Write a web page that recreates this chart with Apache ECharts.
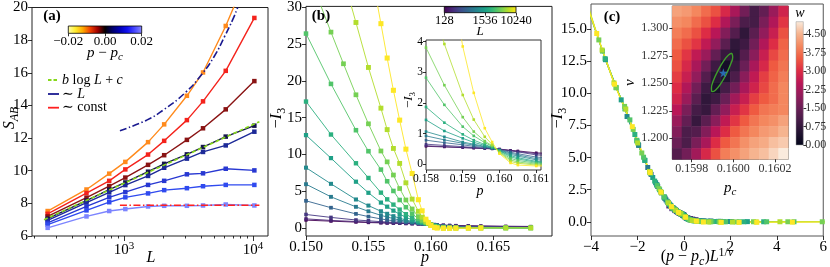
<!DOCTYPE html>
<html><head><meta charset="utf-8">
<script src="https://cdn.jsdelivr.net/npm/echarts@6.0.0/dist/echarts.min.js"></script>
<style>html,body{margin:0;padding:0;background:#fff;}#chart{width:830px;height:267px;}</style>
</head><body><div id="chart"></div>
<script>
// ================= DATA =================
// Panel (a): entanglement S_AB vs L for several p - p_c
const sizesA = [256, 512, 768, 1024, 1536, 2048, 3072, 4096, 6144, 10240];
const sA_orange = [7.53, 8.85, 9.82, 10.54, 11.75, 12.84, 14.59, 16.02, 18.87, 23.0];
const sA_red    = [7.36, 8.63, 9.38, 10.08, 10.99, 11.83, 13.10, 14.25, 16.12, 19.36];
const sA_dkred  = [7.20, 8.35, 9.06, 9.58, 10.36, 10.95, 11.89, 12.60, 13.76, 15.49];
const sA_black  = [7.06, 8.17, 8.84, 9.28, 9.94, 10.42, 11.00, 11.45, 12.09, 12.76];
const sA_dkblue = [6.96, 8.05, 8.67, 9.12, 9.68, 10.18, 10.74, 11.15, 11.55, 12.39];
const sA_blue   = [6.80, 7.81, 8.37, 8.69, 9.13, 9.38, 9.78, 9.84, 10.12, 10.02];
const sA_blue2  = [6.70, 7.57, 8.07, 8.37, 8.61, 8.81, 8.93, 9.05, 9.13, 9.13];
const sA_ltblue = [6.50, 7.20, 7.53, 7.65, 7.81, 7.85, 7.85, 7.87, 7.93, 7.87];
// fit curves
const fitLogL = [240, 11200];            const fitLogS = [7.0, 13.0];
const fitLinL = [930, 1500, 2000, 3000, 4000, 5000, 6000, 7000, 7600];
const fitLinS = [12.45, 13.1, 13.7, 14.8, 15.9, 17.0, 18.2, 19.3, 20.0];
const fitConstL = [930, 11200];          const fitConstS = [7.88, 7.88];
const legendA = ['{i|b}{r| log }{i|L}{r| + }{i|c}', '{r|\u223c }{i|L}', '{r|\u223c const}'];
const ticksAXexp = [3, 4];
const ticksAcb = [-0.02, 0.0, 0.02];

// Panel (b): -I3 vs p for several L
const sizesB = [128, 192, 256, 512, 768, 1024, 1536, 2048, 3072, 4096, 6144, 10240];
const pB = [0.150, 0.152, 0.153, 0.154, 0.155, 0.156, 0.1565, 0.157, 0.1575, 0.158, 0.1585, 0.159, 0.1593, 0.1596, 0.1598, 0.160, 0.1603, 0.1605, 0.161, 0.1615, 0.162, 0.163, 0.164, 0.166, 0.168];
const i3_L128   = [1.06, 0.92, null, 0.79, 0.73, 0.69, 0.66, 0.64, 0.62, 0.59, 0.57, 0.55, 0.53, 0.52, 0.51, 0.50, 0.46, 0.44, 0.38, 0.35, 0.33, 0.30, 0.27, 0.23, 0.20];
const i3_L192   = [1.23, 1.02, null, 0.87, 0.79, 0.72, 0.69, 0.67, 0.64, 0.61, 0.58, 0.55, 0.54, 0.52, 0.51, 0.50, 0.45, 0.42, 0.35, 0.32, 0.29, 0.26, 0.23, 0.18, 0.15];
const i3_L256   = [1.83, 1.43, null, 1.08, 0.97, 0.85, 0.80, 0.74, 0.70, 0.66, 0.62, 0.58, 0.55, 0.53, 0.51, 0.49, 0.44, 0.41, 0.31, 0.28, 0.25, 0.21, 0.18, 0.13, 0.10];
const i3_L512   = [3.69, 2.75, null, 1.91, 1.54, 1.23, 1.08, 0.98, 0.89, 0.79, 0.71, 0.64, 0.59, 0.55, 0.52, 0.48, 0.40, 0.35, 0.24, 0.20, 0.16, 0.12, 0.10, 0.07, 0.05];
const i3_L768   = [5.95, 4.23, null, 2.87, 2.26, 1.71, 1.48, 1.27, 1.07, 0.93, 0.80, 0.69, 0.63, 0.57, 0.53, 0.47, 0.37, 0.31, 0.19, 0.15, 0.12, 0.08, 0.06, 0.04, 0.03];
const i3_L1024  = [8.20, 6.00, null, 3.87, 3.04, 2.27, 1.92, 1.60, 1.32, 1.07, 0.90, 0.73, 0.66, 0.59, 0.54, 0.46, 0.33, 0.27, 0.15, 0.11, 0.08, 0.05, 0.04, 0.03, 0.02];
const i3_L1536  = [12.63, 9.50, null, 6.29, 4.78, 3.45, 2.89, 2.35, 1.87, 1.45, 1.09, 0.85, 0.72, 0.62, 0.55, 0.45, 0.29, 0.22, 0.10, 0.07, 0.05, 0.03, 0.02, 0.01, 0.01];
const i3_L2048  = [17.20, 12.71, null, 8.80, 6.80, 4.80, 3.89, 3.17, 2.49, 1.87, 1.36, 0.98, 0.79, 0.65, 0.56, 0.44, 0.25, 0.18, 0.07, 0.04, 0.03, 0.02, 0.01, 0.00, 0.00];
const i3_L3072  = [26.45, 19.60, null, 13.30, 10.44, 7.94, 6.35, 5.03, 3.80, 2.82, 1.94, 1.23, 0.93, 0.71, 0.59, 0.42, 0.20, 0.13, 0.04, 0.02, 0.01, 0.00, 0.00, 0.00, 0.00];
const i3_L4096  = [35.5, 26.65, 22.34, 18.12, 14.17, 10.47, 8.99, 7.20, 5.36, 3.80, 2.58, 1.54, 1.07, 0.76, 0.61, 0.40, 0.15, 0.08, 0.01, 0.00, -0.01, -0.01, 0.00, 0.00, 0.00];
const i3_L6144  = [null, 40.0, null, 27.96, 21.84, 16.30, 13.38, 10.82, 8.78, 6.14, 3.92, 2.26, 1.46, 0.90, 0.65, 0.38, 0.10, 0.04, -0.02, -0.03, -0.02, -0.01, 0.00, 0.00, 0.00];
const i3_L10240 = [null, null, null, null, 37.0, 27.80, 23.12, 18.73, 14.67, 10.72, 7.41, 3.84, 2.33, 1.18, 0.73, 0.35, 0.05, -0.02, -0.05, -0.05, -0.04, -0.03, -0.02, null, null];
const ticksBX = [0.150, 0.155, 0.160, 0.165];
const ticksBY = [0, 5, 10, 15, 20, 25, 30];
const ticksBinX = [0.158, 0.159, 0.160, 0.161];
const ticksBinY = [0, 1, 2, 3, 4];
const ticksBcb = [128, 1536, 10240];

// Panel (c): collapse parameters (best fit, star) and cost landscape w(p_c, nu)
const pcFit = 0.15995, nuFit = 1.259;
const starP = [0.159952], starNu = [1.2596];
const ellP  = [0.159993, 0.159997, 0.159986, 0.159965, 0.159939, 0.159914, 0.159898, 0.159895, 0.159905, 0.159927, 0.159953, 0.159977, 0.159993];
const ellNu = [1.2773, 1.2740, 1.2669, 1.2579, 1.2495, 1.2437, 1.2424, 1.2456, 1.2527, 1.2617, 1.2702, 1.2758, 1.2773];
const heatPRange = [0.159707, 0.160264];
const heatNuRange = [1.1809, 1.3203];
// rows from top (nu high) to bottom (nu low), columns from p_c low to high
const wRow00 = [4.3, 4.2, 4.0, 3.7, 3.4, 2.9, 2.3, 1.6, 1.0, 1.4, 2.1, 2.8];
const wRow01 = [4.1, 4.0, 3.7, 3.4, 3.0, 2.4, 1.7, 1.1, 1.0, 1.7, 2.4, 3.1];
const wRow02 = [3.9, 3.7, 3.4, 3.0, 2.5, 1.8, 1.2, 0.7, 1.3, 2.0, 2.7, 3.4];
const wRow03 = [3.7, 3.4, 3.1, 2.6, 2.0, 1.3, 0.7, 0.9, 1.6, 2.4, 3.0, 3.6];
const wRow04 = [3.5, 3.1, 2.6, 2.1, 1.4, 0.8, 0.6, 1.2, 1.9, 2.7, 3.3, 3.7];
const wRow05 = [3.4, 2.9, 2.3, 1.6, 0.9, 0.3, 0.8, 1.5, 2.3, 2.9, 3.5, 3.8];
const wRow06 = [3.2, 2.7, 2.0, 1.2, 0.6, 0.5, 1.1, 1.9, 2.6, 3.2, 3.6, 3.9];
const wRow07 = [3.0, 2.4, 1.6, 0.9, 0.4, 1.0, 1.6, 2.3, 2.8, 3.3, 3.7, 4.0];
const wRow08 = [2.8, 2.1, 1.3, 0.7, 0.9, 1.5, 2.2, 2.7, 3.2, 3.5, 3.7, 4.0];
const wRow09 = [2.5, 1.7, 1.0, 0.8, 1.4, 2.0, 2.7, 3.1, 3.5, 3.8, 3.9, 4.0];
const wRow10 = [2.1, 1.4, 0.8, 1.3, 1.9, 2.6, 3.1, 3.5, 3.8, 4.0, 4.1, 4.3];
const wRow11 = [1.8, 1.1, 1.2, 1.8, 2.5, 3.0, 3.5, 3.8, 4.0, 4.2, 4.3, 4.5];
const wRow12 = [1.5, 1.1, 1.7, 2.3, 3.0, 3.5, 3.8, 4.1, 4.3, 4.4, 4.6, 4.7];
const wRow13 = [1.2, 1.6, 2.2, 2.9, 3.4, 3.9, 4.1, 4.3, 4.5, 4.6, 4.8, 5.0];
const ticksCY = [0, 2.5, 5, 7.5, 10, 12.5, 15];
const ticksCinX = [0.1598, 0.1600, 0.1602];
const ticksCinY = [1.200, 1.225, 1.250, 1.275, 1.300];
const ticksCcb = [0, 0.75, 1.5, 2.25, 3.0, 3.75, 4.5];

// ================= STYLE =================
const SERIF = "'Liberation Serif','DejaVu Serif',serif";
const colA = ['#ff8a1c', '#f4231c', '#8a1414', '#15154c', '#1d2a98', '#2838d2', '#2f4aef', '#7c84ff'];
const CB_A = ['#ffffb0', '#ffee30', '#ffaa00', '#f04000', '#a00000', '#050000', '#00006a', '#0000b5', '#1010f0', '#4848ff', '#8a8aff'];
const VIR = ['#440154','#471365','#482475','#463480','#414487','#3b528b','#355f8d','#2f6c8e','#2a788e','#25848e','#21918c','#1e9c89','#22a884','#2fb47c','#44bf70','#5ec962','#7ad151','#9bd93c','#bddf26','#dfe318','#fde725'];
const ROCKET = ['#03051a','#221331','#451c47','#6a1f56','#921c5b','#b91657','#dd2c45','#ef5a41','#f4875e','#f6b48f','#faebdd'];
const fitStyles = [
  {color:'#86d81a', dash:[4,2.5]},
  {color:'#1a1a90', dash:[7,2.5,1.5,2.5]},
  {color:'#ff2020', dash:[7,2.5,1.5,2.5]}
];
function hex2rgb(h){ return [parseInt(h.slice(1,3),16), parseInt(h.slice(3,5),16), parseInt(h.slice(5,7),16)]; }
function interp(stops, t){
  t = Math.max(0, Math.min(1, t));
  const f = t * (stops.length - 1), i = Math.min(stops.length - 2, Math.floor(f)), u = f - i;
  const a = hex2rgb(stops[i]), b = hex2rgb(stops[i+1]);
  return 'rgb(' + a.map((v,k)=>Math.round(v + (b[k]-v)*u)).join(',') + ')';
}
function gradStops(stops){ return stops.map((c,i)=>({offset:i/(stops.length-1), color:c})); }
function richSet(size){
  const s2 = Math.round(size*0.72), col = '#000';
  return {
    i:{fontFamily:SERIF,fontSize:size,fontStyle:'italic',color:col},
    r:{fontFamily:SERIF,fontSize:size,color:col},
    b:{fontFamily:SERIF,fontSize:size,fontWeight:'bold',color:col},
    sb:{fontFamily:SERIF,fontSize:s2,fontStyle:'italic',verticalAlign:'bottom',padding:[Math.round(size*0.55),0,0,0],color:col},
    sbr:{fontFamily:SERIF,fontSize:s2,verticalAlign:'bottom',padding:[Math.round(size*0.55),0,0,0],color:col},
    sp:{fontFamily:SERIF,fontSize:s2,fontStyle:'italic',verticalAlign:'top',padding:[0,0,Math.round(size*0.5),0],color:col},
    spr:{fontFamily:SERIF,fontSize:s2,verticalAlign:'top',padding:[0,0,Math.round(size*0.5),0],color:col}
  };
}
function gtext(x, y, text, size, rot, align){
  return {type:'text', x:x, y:y, rotation: rot||0, z:100,
    style:{text:text, rich:richSet(size), align:align||'center', verticalAlign:'middle', fill:'#000'}};
}
const minus = s => String(s).replace('-', '\u2212');
function vAxis(o, col){
  col = col || '#000';
  const base = {type:'value', splitLine:{show:false}, axisLine:{show:false, onZero:false},
    axisTick:{show:true, inside:false, length:4, lineStyle:{color:'#000', width:0.8}},
    axisLabel:{fontFamily:SERIF, fontSize:15, color:col, margin:4}};
  const r = Object.assign({}, base, o);
  r.axisTick = Object.assign({}, base.axisTick, o.axisTick||{});
  r.axisLabel = Object.assign({}, base.axisLabel, o.axisLabel||{});
  return r;
}
function hiddenAxis(o){
  return Object.assign({show:false, axisLine:{show:false, onZero:false}, axisTick:{show:false}, axisLabel:{show:false}, splitLine:{show:false}, splitArea:{show:false}, axisPointer:{show:false}}, o);
}
const frame = (c) => ({show:true, borderColor:c||'#222', borderWidth:1, backgroundColor:'transparent'});

// ================= BUILD =================
const lg = Math.log10;
const aXMin = 2.287, aXMax = 4.116;
const minorA = [];
[100, 1000].forEach(d => { for (let k = 2; k <= 9; k++) { const v = lg(k*d); if (v > aXMin && v < aXMax) minorA.push(v); } });

const series = [];
const seriesA = [sA_orange, sA_red, sA_dkred, sA_black, sA_dkblue, sA_blue, sA_blue2, sA_ltblue];
seriesA.forEach((vals, k) => series.push({
  type:'line', xAxisIndex:0, yAxisIndex:0, z:3,
  data: sizesA.map((L,i)=>[lg(L), vals[i]]),
  symbol:'rect', symbolSize:4.5, lineStyle:{width:1.4, color:colA[k]}, itemStyle:{color:colA[k]}
}));
const fitsA = [[fitLogL, fitLogS, false], [fitLinL, fitLinS, true], [fitConstL, fitConstS, false]];
fitsA.forEach((f, k) => series.push({type:'line', xAxisIndex:0, yAxisIndex:0, z:5, symbol:'none', smooth:f[2],
  data: f[0].map((L,i)=>[lg(L), f[1][i]]), lineStyle:{width:1.6, color:fitStyles[k].color, type:fitStyles[k].dash}}));

const seriesB = [i3_L128, i3_L192, i3_L256, i3_L512, i3_L768, i3_L1024, i3_L1536, i3_L2048, i3_L3072, i3_L4096, i3_L6144, i3_L10240];
const tOf = L => Math.log(L/128)/Math.log(10240/128);
seriesB.forEach((vals, k) => {
  const L = sizesB[k], col = interp(VIR, tOf(L));
  const pts = pB.map((p,i)=> vals[i]==null ? null : [p, vals[i]]).filter(d=>d);
  series.push({type:'line', xAxisIndex:3, yAxisIndex:2, z:2, data:pts, symbol:'rect', symbolSize:3.2+k*0.17,
    lineStyle:{width:0.9, color:col}, itemStyle:{color:col}});
  series.push({type:'line', xAxisIndex:4, yAxisIndex:3, z:6, data:pts, symbol:'rect', symbolSize:2.6,
    lineStyle:{width:0.8, color:col}, itemStyle:{color:col}});
  const sc = Math.pow(L, 1/nuFit);
  series.push({type:'line', xAxisIndex:6, yAxisIndex:5, z:3, data: pts.map(d=>[(d[0]-pcFit)*sc, d[1]]),
    symbol:'rect', symbolSize:5, lineStyle:{width:1.2, color:col}, itemStyle:{color:col}});
});

const wRows = [wRow00, wRow01, wRow02, wRow03, wRow04, wRow05, wRow06, wRow07, wRow08, wRow09, wRow10, wRow11, wRow12, wRow13];
const nR = wRows.length;
const heatData = [];
wRows.forEach((row, j) => row.forEach((w, i) => heatData.push([i, nR-1-j, w])));
const heatIdx = series.length;
series.push({type:'heatmap', xAxisIndex:7, yAxisIndex:6, z:6, data:heatData, itemStyle:{borderWidth:0}, emphasis:{disabled:true}});
series.push({type:'line', xAxisIndex:8, yAxisIndex:7, z:8, data: ellP.map((p,i)=>[p, ellNu[i]]), symbol:'none', smooth:0.5,
  lineStyle:{width:1.4, color:'#3f9d2b'}});
series.push({type:'scatter', xAxisIndex:8, yAxisIndex:7, z:9, data: starP.map((p,i)=>[p, starNu[i]]),
  symbol:'path://M50,0 L61,35 L98,35 L68,57 L79,91 L50,70 L21,91 L32,57 L2,35 L39,35 Z', symbolSize:9, itemStyle:{color:'#2a7fd0'}});
series.push({type:'scatter', xAxisIndex:2, yAxisIndex:1, data:[]});
series.push({type:'scatter', xAxisIndex:5, yAxisIndex:4, data:[]});
series.push({type:'scatter', xAxisIndex:9, yAxisIndex:8, data:[]});

const legendY = [80, 94, 107.7];
const legendGraphics = [];
legendA.forEach((t, k) => {
  legendGraphics.push({type:'line', z:60, shape:{x1:48, y1:legendY[k], x2:59, y2:legendY[k]},
    style:{stroke:fitStyles[k].color, lineWidth:1.8, lineDash:k===0?[3.5,2]:null}});
  legendGraphics.push(gtext(62, legendY[k], t, 14, 0, 'left'));
});

const option = {
  animation:false, backgroundColor:'#fff', tooltip:{show:false},
  grid:[
    Object.assign({left:32, top:4, width:236, height:232}, frame('#222')),
    {left:68.3, top:26, width:73.4, height:7.3, show:false},
    Object.assign({left:306, top:4, width:246, height:232}, frame('#222')),
    {left:426, top:40, width:115, height:130, show:true, backgroundColor:'#fff', borderColor:'#333', borderWidth:1, z:5},
    {left:444.3, top:6.7, width:71.7, height:6, show:false},
    Object.assign({left:591, top:4, width:236, height:232}, frame('#555')),
    {left:672.3, top:6, width:116, height:153.3, show:true, borderColor:'#555', borderWidth:1, z:5},
    {left:796, top:21.7, width:7.3, height:123.3, show:false}
  ],
  xAxis:[
    vAxis({gridIndex:0, min:aXMin, max:aXMax, axisTick:{customValues:ticksAXexp, length:5},
      axisLabel:{customValues:ticksAXexp, formatter: v=>'{r|10}{spr|'+Math.round(v)+'}', rich:richSet(15), margin:5}}),
    vAxis({gridIndex:0, position:'bottom', min:aXMin, max:aXMax, axisTick:{customValues:minorA, length:2.5}, axisLabel:{show:false}}),
    vAxis({gridIndex:1, position:'bottom', min:-0.02, max:0.02, axisTick:{customValues:ticksAcb, length:3},
      axisLabel:{customValues:ticksAcb, fontSize:13, margin:2, formatter: v=> minus(v.toFixed(2))}}),
    vAxis({gridIndex:2, min:0.150, max:0.1697, axisTick:{customValues:ticksBX, length:4},
      axisLabel:{customValues:ticksBX, formatter: v=>v.toFixed(3)}}),
    vAxis({gridIndex:3, min:0.158, max:0.16113, z:7, axisTick:{customValues:ticksBinX, length:3},
      axisLabel:{customValues:ticksBinX, fontSize:11.5, margin:3, formatter: v=>v.toFixed(3)}}),
    vAxis({gridIndex:4, position:'bottom', min:lg(128), max:lg(10240), axisTick:{customValues:ticksBcb.map(lg), length:3},
      axisLabel:{customValues:ticksBcb.map(lg), fontSize:12.5, margin:2, formatter: v=>String(Math.round(Math.pow(10,v)))}}),
    vAxis({gridIndex:5, min:-4, max:6, interval:2, axisTick:{length:4},
      axisLabel:{formatter: v=>minus(v)}}),
    hiddenAxis({type:'category', gridIndex:6, position:'top', data:wRow00.map((_,i)=>String(i))}),
    vAxis({gridIndex:6, position:'bottom', min:heatPRange[0], max:heatPRange[1], z:7, axisTick:{customValues:ticksCinX, length:3},
      axisLabel:{customValues:ticksCinX, fontSize:12, margin:4, formatter: v=>v.toFixed(4)},
      name:'{i|p}{sb|c}', nameLocation:'middle', nameGap:19, nameTextStyle:{rich:richSet(15)}}, '#333'),
    hiddenAxis({type:'value', gridIndex:7, min:0, max:1})
  ],
  yAxis:[
    vAxis({gridIndex:0, min:6, max:20, interval:2, axisTick:{length:4}}),
    hiddenAxis({type:'value', gridIndex:1, min:0, max:1}),
    vAxis({gridIndex:2, min:-1.1, max:30.15, axisTick:{customValues:ticksBY}, axisLabel:{customValues:ticksBY}}),
    vAxis({gridIndex:3, min:-0.18, max:4.05, z:7, axisTick:{customValues:ticksBinY, length:3},
      axisLabel:{customValues:ticksBinY, fontSize:11.5, margin:3}}),
    hiddenAxis({type:'value', gridIndex:4, min:0, max:1}),
    vAxis({gridIndex:5, min:-1.11, max:16.97, axisTick:{customValues:ticksCY}, axisLabel:{customValues:ticksCY, formatter:v=>v.toFixed(1)}}),
    hiddenAxis({type:'category', gridIndex:6, position:'right', data:wRows.map((_,i)=>String(i))}),
    vAxis({gridIndex:6, position:'left', min:heatNuRange[0], max:heatNuRange[1], z:7, axisTick:{customValues:ticksCinY, length:3},
      axisLabel:{customValues:ticksCinY, fontSize:12, margin:4, formatter: v=>v.toFixed(3)},
      name:'{i|\u03bd}', nameLocation:'middle', nameGap:34, nameRotate:90, nameTextStyle:{rich:richSet(15)}}, '#333'),
    vAxis({gridIndex:7, position:'right', min:0, max:5.0, axisTick:{customValues:ticksCcb, length:3},
      axisLabel:{customValues:ticksCcb, fontSize:12, margin:2, formatter:v=>v.toFixed(2)}}, '#333')
  ],
  visualMap:[{type:'continuous', show:false, seriesIndex:heatIdx, min:0, max:5, inRange:{color:ROCKET}}],
  series: series,
  graphic:[
    {type:'rect', shape:{x:68.3, y:26, width:73.4, height:7.3}, z:50,
      style:{fill:new echarts.graphic.LinearGradient(0,0,1,0,gradStops(CB_A)), stroke:'#000', lineWidth:0.8}},
    {type:'rect', shape:{x:444.3, y:6.7, width:71.7, height:6}, z:50,
      style:{fill:new echarts.graphic.LinearGradient(0,0,1,0,gradStops(VIR)), stroke:'#000', lineWidth:0.8}},
    {type:'rect', shape:{x:796, y:21.7, width:7.3, height:123.3}, z:50,
      style:{fill:new echarts.graphic.LinearGradient(0,1,0,0,gradStops(ROCKET)), stroke:'#999', lineWidth:0.5}},
    gtext(52, 16, '{b|(a)}', 15),
    gtext(321, 16, '{b|(b)}', 15),
    gtext(612, 17, '{b|(c)}', 15),
    gtext(105, 53, '{i|p}{r| \u2212 }{i|p}{sb|c}', 15),
    gtext(480, 32, '{i|L}', 13),
    gtext(800, 13, '{i|w}', 14),
    gtext(151, 258, '{i|L}', 16),
    gtext(425, 258, '{i|p}', 16),
    gtext(697, 257, '{r|(}{i|p}{r| \u2212 }{i|p}{sb|c}{r|)}{i|L}{spr|1/}{sp|\u03bd}', 16),
    gtext(10, 118, '{i|S}{sb|AB}', 16, Math.PI/2),
    gtext(277, 118, '{r|\u2212}{i|I}{sbr|3}', 16, Math.PI/2),
    gtext(558, 118, '{r|\u2212}{i|I}{sbr|3}', 16, Math.PI/2),
    gtext(409, 100, '{r|\u2212}{i|I}{sbr|3}', 13, Math.PI/2),
    gtext(480, 191, '{i|p}', 14)
  ].concat(legendGraphics)
};
const chart = echarts.init(document.getElementById('chart'), null, {renderer:'canvas', width:830, height:267});
chart.setOption(option);
</script></body></html>
